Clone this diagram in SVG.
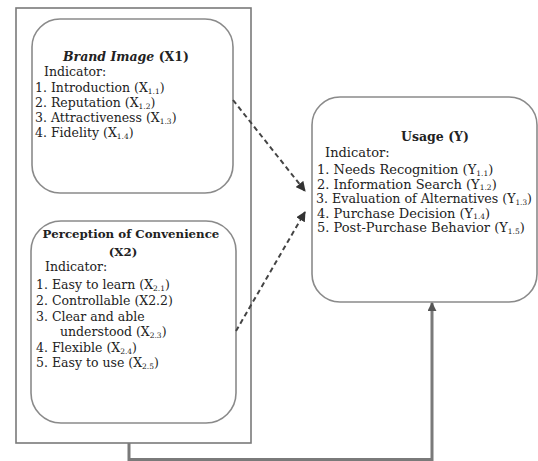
<svg xmlns="http://www.w3.org/2000/svg" width="538" height="461" viewBox="0 0 538 461">
<defs>
<marker id="ah" viewBox="0 0 10 10" refX="9" refY="5" markerWidth="5" markerHeight="5" orient="auto-start-reverse" markerUnits="strokeWidth">
<path d="M0,0 L10,5 L0,10 z" fill="#333"/>
</marker>
<marker id="ah2" viewBox="0 0 10 10" refX="9" refY="5" markerWidth="3" markerHeight="3" orient="auto" markerUnits="strokeWidth">
<path d="M0,0 L10,5 L0,10 z" fill="#555"/>
</marker>
<style>
.box{fill:#fff;stroke:#8a8a8a;stroke-width:1.6}
.outer{fill:none;stroke:#7a7a7a;stroke-width:1.6}
text{font-family:"DejaVu Serif",serif;font-size:12.5px;fill:#222}
.u{font-size:13px}
.b{font-weight:bold}
.bi{font-weight:bold;font-style:italic}
.pt{font-size:11.8px}
.sub{font-size:7.5px}
.dash{fill:none;stroke:#444;stroke-width:2;stroke-dasharray:5 3.5}
.conn{fill:none;stroke:#7a7a7a;stroke-width:3}
</style>
</defs>
<rect width="538" height="461" fill="#fff"/>
<g id="group-x">
<rect class="outer" x="16" y="8" width="235" height="435"/>
</g>
<g id="brand-image">
<rect class="box" x="32" y="19" width="201" height="174" rx="28"/>
<text x="63" y="61"><tspan class="bi">Brand Image</tspan><tspan class="b"> (X1)</tspan></text>
<text x="44" y="76">Indicator:</text>
<text x="35" y="92">1. Introduction (X<tspan class="sub" dy="1.5">1.1</tspan><tspan dy="-1.5">)</tspan></text>
<text x="35" y="107">2. Reputation (X<tspan class="sub" dy="1.5">1.2</tspan><tspan dy="-1.5">)</tspan></text>
<text x="35" y="122">3. Attractiveness (X<tspan class="sub" dy="1.5">1.3</tspan><tspan dy="-1.5">)</tspan></text>
<text x="35" y="137">4. Fidelity (X<tspan class="sub" dy="1.5">1.4</tspan><tspan dy="-1.5">)</tspan></text>
</g>
<g id="perception">
<rect class="box" x="31" y="221" width="205" height="202" rx="30"/>
<text class="b pt" x="131" y="238" text-anchor="middle">Perception of Convenience</text>
<text class="b pt" x="123" y="256" text-anchor="middle">(X2)</text>
<text x="45" y="271">Indicator:</text>
<text x="36" y="289">1. Easy to learn (X<tspan class="sub" dy="1.5">2.1</tspan><tspan dy="-1.5">)</tspan></text>
<text x="36" y="305">2. Controllable (X2.2)</text>
<text x="36" y="321">3. Clear and able</text>
<text x="60" y="336">understood (X<tspan class="sub" dy="1.5">2.3</tspan><tspan dy="-1.5">)</tspan></text>
<text x="36" y="352">4. Flexible (X<tspan class="sub" dy="1.5">2.4</tspan><tspan dy="-1.5">)</tspan></text>
<text x="36" y="367">5. Easy to use (X<tspan class="sub" dy="1.5">2.5</tspan><tspan dy="-1.5">)</tspan></text>
</g>
<g id="usage">
<rect class="box" x="312" y="97" width="225" height="205" rx="28"/>
<text class="b" x="435" y="141" text-anchor="middle">Usage (Y)</text>
<text class="u" x="325" y="157">Indicator:</text>
<text class="u" x="317" y="174">1. Needs Recognition (Y<tspan class="sub" dy="1.5">1.1</tspan><tspan dy="-1.5">)</tspan></text>
<text class="u" x="317" y="188.5">2. Information Search (Y<tspan class="sub" dy="1.5">1.2</tspan><tspan dy="-1.5">)</tspan></text>
<text class="u" x="316" y="203" textLength="216" lengthAdjust="spacingAndGlyphs">3. Evaluation of Alternatives (Y<tspan class="sub" dy="1.5">1.3</tspan><tspan dy="-1.5">)</tspan></text>
<text class="u" x="317" y="217.5">4. Purchase Decision (Y<tspan class="sub" dy="1.5">1.4</tspan><tspan dy="-1.5">)</tspan></text>
<text class="u" x="317" y="232">5. Post-Purchase Behavior (Y<tspan class="sub" dy="1.5">1.5</tspan><tspan dy="-1.5">)</tspan></text>
</g>
<g id="connectors">
<path class="dash" d="M233,100 L305,191" marker-end="url(#ah)"/>
<path class="dash" d="M236,331 L305,212" marker-end="url(#ah)"/>
<path class="conn" d="M129,443 L129,459.5 L432,459.5 L432,303" marker-end="url(#ah2)"/>
</g>
</svg>
